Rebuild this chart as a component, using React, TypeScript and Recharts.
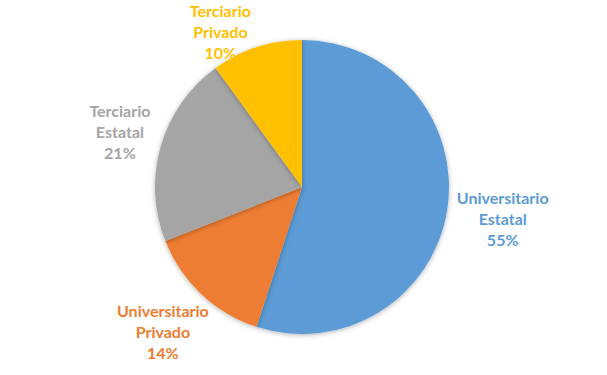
import { PieChart, Pie, Cell } from "recharts";

const categories = [
  "Universitario Estatal",
  "Universitario Privado",
  "Terciario Estatal",
  "Terciario Privado",
];
const shares = [55, 14, 21, 10];
const colors = ["#5B9BD5", "#ED7D31", "#A5A5A5", "#FFC000"];

const data = categories.map((name, i) => ({ name, value: shares[i] }));

const RADIAN = Math.PI / 180;
const LINE_H = 21;

// places the label box just outside the rim, like Excel's "outside end"
function renderLabel(props: any) {
  const { cx, cy, midAngle, outerRadius, index } = props;
  const lines = [...categories[index].split(" "), `${shares[index]}%`];
  const widest = Math.max(...lines.map((l) => l.length));
  const halfW = widest * 3.4;
  const halfH = (lines.length * LINE_H) / 2 + 8;
  const cos = Math.cos(-midAngle * RADIAN);
  const sin = Math.sin(-midAngle * RADIAN);
  const r = outerRadius + 12;
  let x = cx + r * cos + halfW * cos;
  let y = cy + r * sin + halfH * sin;
  const boxH = (lines.length * LINE_H) / 2;
  if (y - boxH < 0) {
    // clamped to the top edge, pushed sideways instead
    y = boxH;
    x -= 23;
  }
  return (
    <text
      x={x}
      y={y}
      textAnchor="middle"
      fill={colors[index]}
      fontFamily="Lato, 'Open Sans', sans-serif"
      fontWeight="bold"
      fontSize={16}
    >
      {lines.map((l, i) => (
        <tspan
          key={i}
          x={x}
          y={y + (i - (lines.length - 1) / 2) * LINE_H}
          dominantBaseline="central"
        >
          {l}
        </tspan>
      ))}
    </text>
  );
}

export default function App() {
  return (
    <div
      style={{
        position: "absolute",
        left: 0,
        top: 0,
        width: 607,
        height: 375,
        background: "#fff",
      }}
    >
      <PieChart
        width={607}
        height={375}
        margin={{ top: 0, right: 0, bottom: 0, left: 0 }}
      >
        <defs>
          <filter id="pieShadow" x="-20%" y="-20%" width="140%" height="140%">
            <feDropShadow dx="0" dy="1" stdDeviation="2.5" floodOpacity="0.3" />
          </filter>
        </defs>
        <Pie
          data={data}
          dataKey="value"
          nameKey="name"
          cx={302}
          cy={187}
          outerRadius={147}
          startAngle={90}
          endAngle={-270}
          stroke="none"
          label={renderLabel}
          labelLine={false}
          isAnimationActive={false}
          style={{ filter: "url(#pieShadow)" }}
        >
          {data.map((d, i) => (
            <Cell key={d.name} fill={colors[i]} stroke="none" />
          ))}
        </Pie>
      </PieChart>
    </div>
  );
}
